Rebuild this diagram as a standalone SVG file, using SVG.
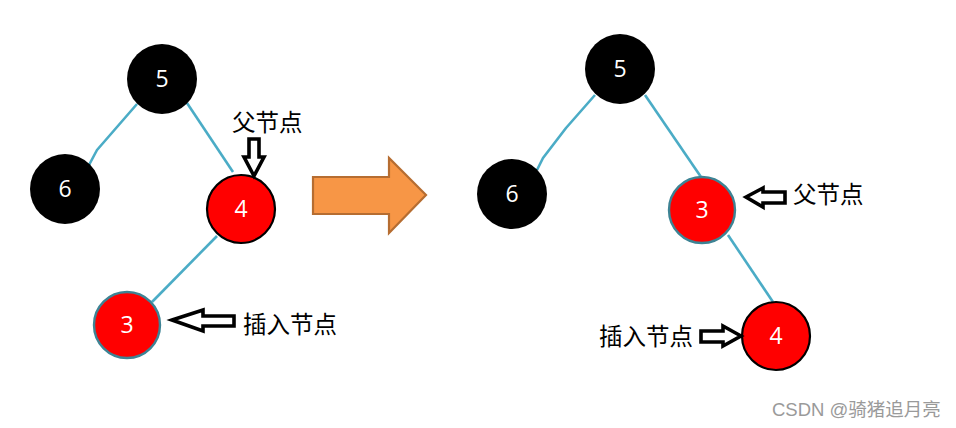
<svg xmlns="http://www.w3.org/2000/svg" width="956" height="428" viewBox="0 0 956 428">
<style>
.edge{fill:none;stroke:#4bacc6;stroke-width:2.6;stroke-linejoin:round}
.blk{fill:#000}
.red{fill:#ff0000}
.rb{stroke:#000;stroke-width:2.2}
.rt{stroke:#3d8394;stroke-width:2.4}
.num{font-family:"Open Sans","DejaVu Sans",sans-serif;font-size:23px;fill:#fff;text-anchor:middle}
.lbl{font-family:"Noto Sans CJK SC","Noto Sans",sans-serif;font-size:23.5px;fill:#000}
.barr{fill:#fff;stroke:#000;stroke-width:3.6;stroke-linejoin:miter}
.wm{font-family:"Liberation Sans","Noto Sans CJK SC",sans-serif;font-size:18.5px;fill:#9a9a9a}
</style>
<rect width="956" height="428" fill="#fff"/>
<g id="connectors">
<polyline class="edge" points="137,104 97,150 89,165"/>
<line class="edge" x1="187" y1="103" x2="233" y2="172"/>
<line class="edge" x1="217" y1="236" x2="152" y2="302"/>
<polyline class="edge" points="595,95 566,128 543,158 537,170"/>
<line class="edge" x1="645" y1="95" x2="701" y2="177"/>
<line class="edge" x1="728" y1="235" x2="773" y2="302"/>
</g>
<g id="L5"><circle class="blk" cx="162" cy="79" r="35"/><text class="num" x="162" y="87">5</text></g>
<g id="L6"><circle class="blk" cx="65" cy="189" r="35"/><text class="num" x="65" y="197">6</text></g>
<g id="L4"><circle class="red rb" cx="241" cy="209" r="34"/><text class="num" x="241" y="217">4</text></g>
<g id="L3"><circle class="red rt" cx="127" cy="325" r="33"/><text class="num" x="127" y="333">3</text></g>
<g id="Lparent">
<polygon class="barr" points="249,139 259,139 259,157 264,157 254,176 244,157 249,157"/>
<text class="lbl" x="232" y="131">父节点</text>
</g>
<g id="Linsert">
<polygon class="barr" points="172,320 203,310 203,316 234,316 234,326 203,326 203,331"/>
<text class="lbl" x="243" y="333">插入节点</text>
</g>
<g id="bigArrow">
<polygon points="313,177 389,177 389,158 426,195 389,233 389,214 313,214" fill="#f79646" stroke="#b66d31" stroke-width="2.2"/>
</g>
<g id="R5"><circle class="blk" cx="620" cy="69" r="35"/><text class="num" x="620" y="77">5</text></g>
<g id="R6"><circle class="blk" cx="512" cy="194" r="35"/><text class="num" x="512" y="202">6</text></g>
<g id="R3"><circle class="red rt" cx="702" cy="210" r="33"/><text class="num" x="702" y="218">3</text></g>
<g id="R4"><circle class="red rb" cx="776" cy="336" r="34"/><text class="num" x="776" y="344">4</text></g>
<g id="Rparent">
<polygon class="barr" points="746,197 763,188 763,192 785,192 785,203 763,203 763,207"/>
<text class="lbl" x="793" y="203">父节点</text>
</g>
<g id="Rinsert">
<polygon class="barr" points="741,336 723,326 723,331 701,331 701,342 723,342 723,346"/>
<text class="lbl" x="599" y="345">插入节点</text>
</g>
<text class="wm" x="772" y="416">CSDN @骑猪追月亮</text>
</svg>
